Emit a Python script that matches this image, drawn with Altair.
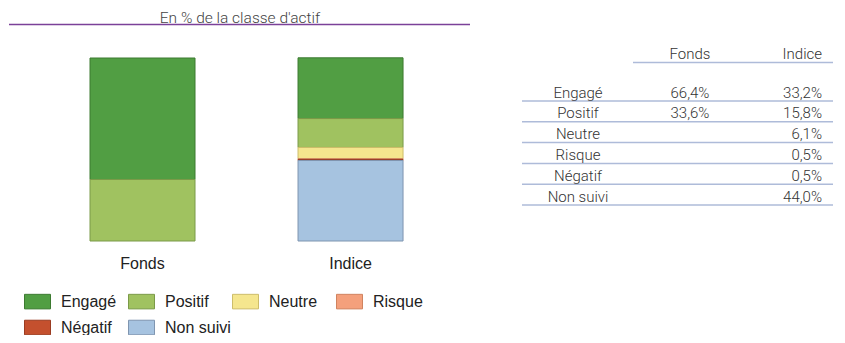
import altair as alt
import pandas as pd

# ---------------- data ----------------
categories = ["Engagé", "Positif", "Neutre", "Risque", "Négatif", "Non suivi"]
portfolios = ["Fonds", "Indice"]
fonds_values = [66.4, 33.6, None, None, None, None]
indice_values = [33.2, 15.8, 6.1, 0.5, 0.5, 44.0]
fill_colors = ["#519e43", "#a0c260", "#f5e68e", "#f4a07c", "#c4502e", "#a6c3e0"]
stroke_colors = ["#3c7a30", "#7b9a48", "#cdbd6a", "#d0835f", "#9a3c22", "#7f95b0"]
title_text = "En % de la classe d'actif"
table_columns = ["Fonds", "Indice"]


def fmt(v):
    return "" if v is None else f"{v:.1f}".replace(".", ",") + "%"


rows = []
for p, vals in zip(portfolios, [fonds_values, indice_values]):
    for i, (c, v) in enumerate(zip(categories, vals)):
        if v is not None:
            rows.append({"portfolio": p, "category": c, "value": v,
                         "rank": len(categories) - 1 - i})
bar_df = pd.DataFrame(rows)

table_df = pd.DataFrame({
    "category": categories,
    "fonds_txt": [fmt(v) for v in fonds_values],
    "indice_txt": [fmt(v) for v in indice_values],
})

# ---------------- scales ----------------
x_bars = alt.Scale(type="band", domain=portfolios, range=[82, 395.04], paddingInner=0.4952, paddingOuter=0)
y_bars = alt.Scale(domain=[0, 100], range=[233, 50], nice=False)
y_rows = alt.Scale(type="band", domain=categories, range=[72.2, 197], paddingInner=0, paddingOuter=0)

legend = alt.Legend(
    title=None, orient="none", legendX=16, legendY=280, direction="horizontal",
    columns=4, symbolType="M-1,-0.56L1,-0.56L1,0.56L-1,0.56Z", symbolSize=676,
    labelFont="Liberation Sans", labelFontSize=16, labelColor="#222222",
    labelOffset=10, columnPadding=-1, rowPadding=3, gridAlign="all",
    symbolStrokeWidth=1, symbolOpacity=1,
)

bars = alt.Chart(bar_df).mark_bar(strokeWidth=1, opacity=1).encode(
    x=alt.X("portfolio:N", scale=x_bars, axis=None),
    y=alt.Y("value:Q", scale=y_bars, axis=None, stack="zero"),
    color=alt.Color("category:N", scale=alt.Scale(domain=categories, range=fill_colors), legend=legend),
    stroke=alt.Stroke("category:N", scale=alt.Scale(domain=categories, range=stroke_colors), legend=legend),
    order=alt.Order("rank:Q"),
)

bar_labels = alt.Chart(pd.DataFrame({"portfolio": portfolios})).mark_text(
    font="Liberation Sans", fontSize=16, color="#222222", baseline="middle", align="center"
).encode(
    x=alt.X("portfolio:N", scale=x_bars, axis=None, bandPosition=0.5),
    y=alt.value(256),
    text="portfolio:N",
)

title = alt.Chart(pd.DataFrame({"t": [title_text]})).mark_text(
    font="Roboto", fontWeight=300, fontSize=15.5, color="#444444", align="center", baseline="alphabetic"
).encode(x=alt.value(232), y=alt.value(14.5), text="t:N")

title_rule = alt.Chart(pd.DataFrame({"d": [0]})).mark_rule(color="#7b4199", strokeWidth=1.5).encode(
    x=alt.value(1), x2=alt.value(462), y=alt.value(16.5)
)

text_style = dict(font="Roboto", fontWeight=300, fontSize=15, color="#333333", baseline="middle", dy=2)

row_labels = alt.Chart(table_df).mark_text(align="center", **text_style).encode(
    x=alt.value(570), y=alt.Y("category:N", scale=y_rows, axis=None), text="category:N"
)
fonds_col = alt.Chart(table_df).mark_text(align="center", **text_style).encode(
    x=alt.value(682), y=alt.Y("category:N", scale=y_rows, axis=None), text="fonds_txt:N"
)
indice_col = alt.Chart(table_df).mark_text(align="right", **text_style).encode(
    x=alt.value(814), y=alt.Y("category:N", scale=y_rows, axis=None), text="indice_txt:N"
)
row_lines = alt.Chart(table_df).mark_rule(color="#aebbd9", strokeWidth=1.5).encode(
    y=alt.Y("category:N", scale=y_rows, axis=None, bandPosition=1),
    x=alt.value(514), x2=alt.value(825),
)

header_fonds = alt.Chart(pd.DataFrame({"h": [table_columns[0]]})).mark_text(
    align="center", **text_style).encode(x=alt.value(682), y=alt.value(44), text="h:N")
header_indice = alt.Chart(pd.DataFrame({"h": [table_columns[1]]})).mark_text(
    align="right", **text_style).encode(x=alt.value(814), y=alt.value(44), text="h:N")
header_rule = alt.Chart(pd.DataFrame({"d": [0]})).mark_rule(color="#aebbd9", strokeWidth=1.5).encode(
    x=alt.value(625), x2=alt.value(825), y=alt.value(54.5)
)

chart = alt.layer(
    bars, bar_labels, title_rule, title, row_lines, header_rule,
    row_labels, fonds_col, indice_col, header_fonds, header_indice,
).resolve_scale(x="independent", y="independent").properties(
    width=829, height=327, autosize=alt.AutoSizeParams(type="none"), padding=0,
    background="white",
).configure_view(stroke=None)

chart.save("out.html", embed_options={"renderer": "svg", "actions": False})
